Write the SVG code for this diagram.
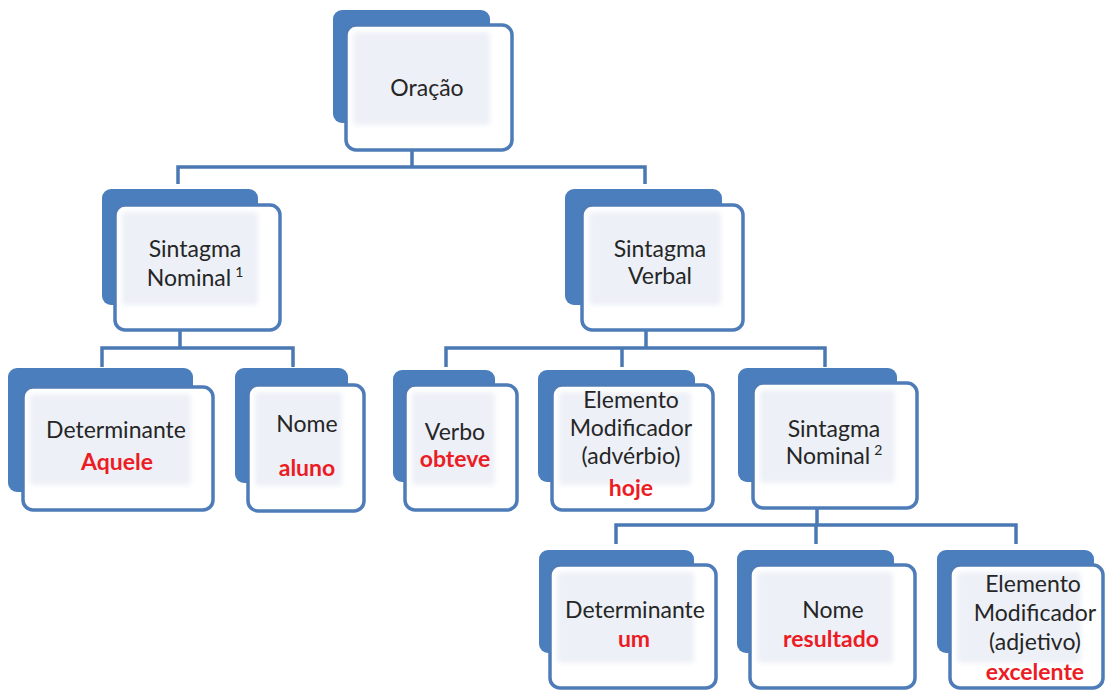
<svg xmlns="http://www.w3.org/2000/svg" width="1107" height="690" viewBox="0 0 1107 690">
<style>
.back{fill:#4b7ebd;}
.front{fill:#ffffff;stroke:#4e7cb8;stroke-width:3.5;}
.inner{fill:#edf0f7;filter:url(#soft);}
.conn{fill:none;stroke:#4a78b3;stroke-width:3.5;stroke-linecap:butt;stroke-linejoin:miter;}
text{font-family:Lato,"Open Sans","Liberation Sans",sans-serif;font-size:23px;text-anchor:middle;fill:#262626;}
.red{fill:#ec1c24;font-weight:bold;}
.sup{font-size:14px;}
</style>
<defs>
<filter id="soft" x="-10%" y="-10%" width="120%" height="120%"><feGaussianBlur stdDeviation="2.5"/></filter>
</defs>
<rect width="1107" height="690" fill="#ffffff"/>
<g id="connectors">
<path class="conn" d="M178,184 V167 H645 V184 M412,150 V167"/>
<path class="conn" d="M102,367 V348 H293 V367 M180,330 V348"/>
<path class="conn" d="M446,367 V348 H825 V367 M622,348 V367 M646,330 V348"/>
<path class="conn" d="M616,544 V525 H1016 V544 M816,525 V544 M817,508 V525"/>
</g>
<g id="n-oracao">
<rect class="back" x="333" y="10" width="157" height="113" rx="9"/>
<rect class="front" x="346" y="25" width="166" height="125" rx="10"/>
<rect class="inner" x="353" y="32" width="137" height="93" rx="4"/>
<text x="427" y="96">Oração</text>
</g>
<g id="n-sn1">
<rect class="back" x="102" y="189" width="156" height="116" rx="9"/>
<rect class="front" x="115" y="205" width="165" height="125" rx="10"/>
<rect class="inner" x="122" y="212" width="136" height="93" rx="4"/>
<text x="195" y="257">Sintagma</text>
<text x="195" y="286">Nominal<tspan class="sup" dx="4" dy="-9">1</tspan></text>
</g>
<g id="n-sv">
<rect class="back" x="565" y="189" width="157" height="116" rx="9"/>
<rect class="front" x="582" y="205" width="161" height="125" rx="10"/>
<rect class="inner" x="589" y="212" width="132" height="93" rx="4"/>
<text x="660" y="257">Sintagma</text>
<text x="660" y="284">Verbal</text>
</g>
<g id="n-det1">
<rect class="back" x="8" y="368" width="185" height="124" rx="9"/>
<rect class="front" x="23" y="387" width="190" height="123" rx="10"/>
<rect class="inner" x="30" y="394" width="161" height="91" rx="4"/>
<text x="116" y="438">Determinante</text>
<text class="red" x="117" y="470">Aquele</text>
</g>
<g id="n-nome1">
<rect class="back" x="235" y="368" width="113" height="115" rx="9"/>
<rect class="front" x="248" y="385" width="116" height="126" rx="10"/>
<rect class="inner" x="255" y="392" width="87" height="94" rx="4"/>
<text x="307" y="432">Nome</text>
<text class="red" x="307" y="476">aluno</text>
</g>
<g id="n-verbo">
<rect class="back" x="393" y="370" width="102" height="112" rx="9"/>
<rect class="front" x="405" y="385" width="112" height="125" rx="10"/>
<rect class="inner" x="412" y="392" width="83" height="93" rx="4"/>
<text x="455" y="440">Verbo</text>
<text class="red" x="455" y="467">obteve</text>
</g>
<g id="n-elemadv">
<rect class="back" x="538" y="370" width="157" height="112" rx="9"/>
<rect class="front" x="552" y="385" width="161" height="125" rx="10"/>
<rect class="inner" x="559" y="392" width="132" height="93" rx="4"/>
<text x="631" y="408">Elemento</text>
<text x="631" y="436">Modificador</text>
<text x="631" y="464">(advérbio)</text>
<text class="red" x="631" y="496">hoje</text>
</g>
<g id="n-sn2">
<rect class="back" x="738" y="368" width="159" height="114" rx="9"/>
<rect class="front" x="753" y="383" width="164" height="125" rx="10"/>
<rect class="inner" x="760" y="390" width="135" height="93" rx="4"/>
<text x="834" y="437">Sintagma</text>
<text x="834" y="464">Nominal<tspan class="sup" dx="4" dy="-9">2</tspan></text>
</g>
<g id="n-det2">
<rect class="back" x="539" y="550" width="155" height="103" rx="9"/>
<rect class="front" x="550" y="565" width="166" height="123" rx="10"/>
<rect class="inner" x="557" y="572" width="137" height="91" rx="4"/>
<text x="635" y="618">Determinante</text>
<text class="red" x="634" y="647">um</text>
</g>
<g id="n-nome2">
<rect class="back" x="737" y="550" width="157" height="103" rx="9"/>
<rect class="front" x="750" y="565" width="165" height="123" rx="10"/>
<rect class="inner" x="757" y="572" width="136" height="91" rx="4"/>
<text x="833" y="618">Nome</text>
<text class="red" x="831" y="647">resultado</text>
</g>
<g id="n-elemadj">
<rect class="back" x="937" y="550" width="157" height="103" rx="9"/>
<rect class="front" x="950" y="565" width="153" height="123" rx="10"/>
<rect class="inner" x="957" y="572" width="124" height="91" rx="4"/>
<text x="1033" y="592">Elemento</text>
<text x="1035" y="621">Modificador</text>
<text x="1035" y="650">(adjetivo)</text>
<text class="red" x="1035" y="680">excelente</text>
</g>
</svg>
